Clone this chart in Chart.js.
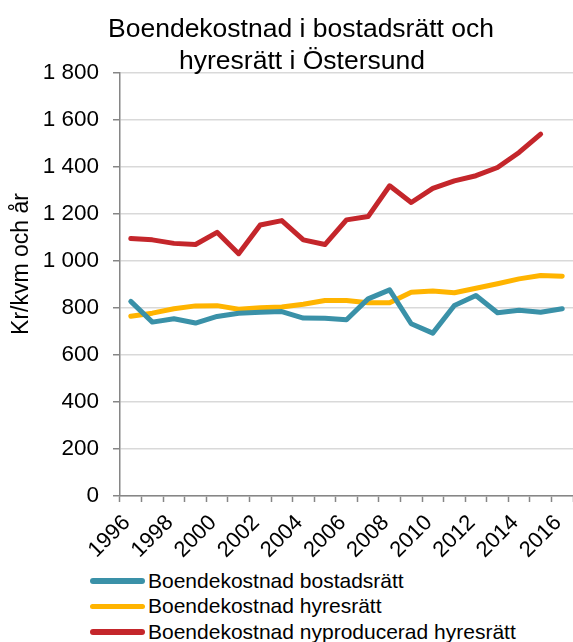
<!DOCTYPE html>
<html lang="sv">
<head>
    <meta charset="UTF-8">
    <title>Boendekostnad Östersund</title>
    <style>
        body {
            margin: 0;
            padding: 0;
            background: #fff;
            font-family: "Liberation Sans", Arial, sans-serif;
        }

        .wrap {
            position: relative;
            width: 573px;
            height: 642px;
            overflow: hidden;
        }

        #legend {
            position: absolute;
            left: 90px;
            top: 568px;
        }

        .item {
            display: flex;
            align-items: center;
            height: 25.5px;
            font-size: 21px;
            color: #000;
            white-space: nowrap;
        }

        .swatch {
            width: 55px;
            height: 5.5px;
            border-radius: 3px;
            margin-right: 3px;
        }
    </style>
</head>
<body>
    <div class="wrap">
        <canvas id="chart" width="573" height="560"></canvas>
        <div id="legend"></div>
    </div>

    <script src="https://cdn.jsdelivr.net/npm/chart.js"></script>
    <script>
        // data (kr/kvm och år)
        var years = ['1996', '1997', '1998', '1999', '2000', '2001', '2002', '2003', '2004', '2005', '2006',
            '2007', '2008', '2009', '2010', '2011', '2012', '2013', '2014', '2015', '2016'];
        var bostadsratt = [828, 740, 754, 736, 764, 778, 782, 785, 757, 756, 750,
            839, 877, 733, 693, 811, 853, 780, 790, 782, 797];
        var hyresratt = [765, 778, 797, 809, 810, 795, 801, 804, 816, 832, 832,
            822, 822, 867, 872, 865, 884, 903, 924, 938, 935];
        var nyproducerad = [1096, 1090, 1075, 1070, 1122, 1031, 1153, 1172, 1090, 1070, 1175,
            1189, 1320, 1249, 1309, 1341, 1363, 1398, 1462, 1540, null];
        var seriesNames = ['Boendekostnad bostadsrätt', 'Boendekostnad hyresrätt', 'Boendekostnad nyproducerad hyresrätt'];
        var seriesColors = ['#3A91A8', '#FFB400', '#C4262B'];
        var titleLines = ['Boendekostnad i bostadsrätt och', 'hyresrätt i Östersund'];
        var yLabel = 'Kr/kvm och år';

        var FONT = '"Liberation Sans", Arial, sans-serif';
        var AXIS = '#868686';

        function fmt(v) {
            return String(v).replace(/\B(?=(\d{3})+(?!\d))/g, '\u00a0');
        }

        // title and y-axis label drawn at fixed spots like the original
        var textPlugin = {
            id: 'texts',
            afterDraw: function (chart) {
                var ctx = chart.ctx;
                ctx.save();
                ctx.fillStyle = '#000';
                ctx.textAlign = 'center';
                ctx.textBaseline = 'alphabetic';
                ctx.font = '26.5px ' + FONT;
                ctx.fillText(titleLines[0], 301, 37);
                ctx.fillText(titleLines[1], 302, 69);

                ctx.translate(22, 264);
                ctx.rotate(-Math.PI / 2);
                ctx.textBaseline = 'middle';
                ctx.font = '23px ' + FONT;
                ctx.fillText(yLabel, 0, 0);
                ctx.restore();
            }
        };

        var allData = [bostadsratt, hyresratt, nyproducerad];
        var datasets = allData.map(function (d, i) {
            return {
                label: seriesNames[i],
                data: d,
                borderColor: seriesColors[i],
                backgroundColor: seriesColors[i],
                borderWidth: 5,
                pointRadius: 0,
                tension: 0,
                borderJoinStyle: 'round',
                borderCapStyle: 'round',
                spanGaps: false
            };
        });

        var chart = new Chart(document.getElementById('chart').getContext('2d'), {
            type: 'line',
            data: { labels: years, datasets: datasets },
            plugins: [textPlugin],
            options: {
                responsive: false,
                animation: false,
                devicePixelRatio: 1,
                layout: { padding: { top: 73, left: 0, right: 0, bottom: 0 } },
                plugins: {
                    legend: { display: false },
                    title: { display: false },
                    tooltip: { enabled: false }
                },
                scales: {
                    x: {
                        offset: true,
                        afterFit: function (s) {
                            s.height = 64;
                            // let the plot run to the right edge, as in the original
                            s.paddingLeft = 0;
                            s.paddingRight = 0;
                        },
                        grid: {
                            offset: true,
                            drawOnChartArea: false,
                            drawTicks: true,
                            tickLength: 6,
                            tickColor: AXIS,
                            tickWidth: 1.5
                        },
                        border: { color: AXIS, width: 1.5 },
                        ticks: {
                            autoSkip: false,
                            minRotation: 45,
                            maxRotation: 45,
                            padding: 8,
                            labelOffset: -4,
                            color: '#000',
                            font: { family: FONT, size: 22 },
                            callback: function (v, i) { return i % 2 === 0 ? years[i] : ''; }
                        }
                    },
                    y: {
                        min: 0,
                        max: 1800,
                        afterFit: function (s) { s.width = 120; },
                        grid: {
                            color: '#d9d9d9',
                            lineWidth: 1.5,
                            drawTicks: true,
                            tickLength: 7,
                            tickColor: AXIS,
                            tickWidth: 1.5
                        },
                        border: { color: AXIS, width: 1.5 },
                        ticks: {
                            stepSize: 200,
                            padding: 14,
                            color: '#000',
                            font: { family: FONT, size: 22.5 },
                            callback: function (v) { return fmt(v); }
                        }
                    }
                }
            }
        });

        // legend built from the chart's datasets
        var legend = document.getElementById('legend');
        chart.data.datasets.forEach(function (ds) {
            var row = document.createElement('div');
            row.className = 'item';
            var sw = document.createElement('span');
            sw.className = 'swatch';
            sw.style.background = ds.borderColor;
            var txt = document.createElement('span');
            txt.textContent = ds.label;
            row.appendChild(sw);
            row.appendChild(txt);
            legend.appendChild(row);
        });
    </script>
</body>
</html>
